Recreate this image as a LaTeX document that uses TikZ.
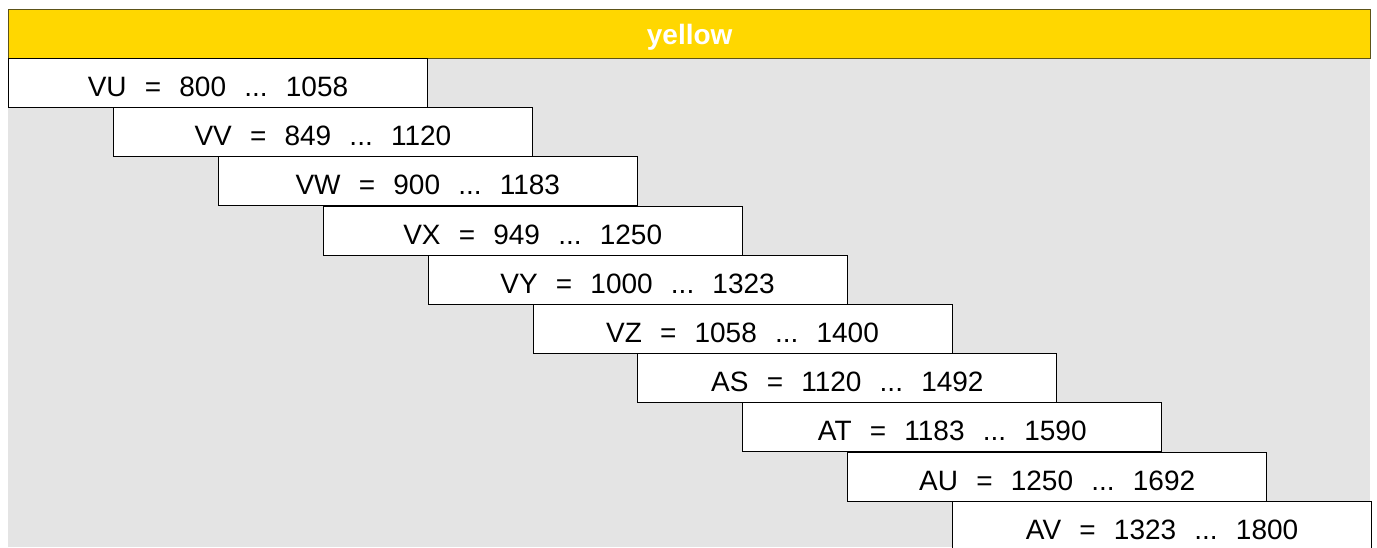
\documentclass[tikz,border=0pt]{standalone}
\usepackage{fontspec}
\setmainfont{Liberation Sans}
\definecolor{jaune}{HTML}{FFD700}
\definecolor{bordjaune}{HTML}{5C5218}
\definecolor{fond}{HTML}{E4E4E4}
\newcommand\esp{\hspace{0.65em}}
\begin{document}
\begin{tikzpicture}[x=0.5pt,y=-0.5pt]
\tikzset{
	plage/.style={draw=black,fill=white,line width=0.5pt,inner sep=0pt,
		minimum width=209.5pt,text height=19pt,text depth=5.5pt,anchor=north west,
		font=\fontsize{14}{16}\selectfont},
	bandeau/.style={draw=bordjaune,fill=jaune,line width=0.7pt,inner sep=0pt,
		minimum width=681pt,text height=17.15pt,text depth=7.35pt,anchor=north west,
		text=white,font=\fontsize{14}{16}\selectfont\bfseries}
}
  \useasboundingbox (0,0) rectangle (1377,547);
  \clip (0,0) rectangle (1377,547);

  % fond gris
  \fill[fond] (8,58) rectangle (1370,547);

  % le bandeau du haut
  \node[bandeau] (titre) at (8,9) {yellow};

  % les plages en escalier
  \foreach \nom/\a/\b [count=\i from 0] in {VU/800/1058, VV/849/1120, VW/900/1183,
      VX/949/1250, VY/1000/1323, VZ/1058/1400, AS/1120/1492, AT/1183/1590,
      AU/1250/1692, AV/1323/1800}
    \node[plage] (\nom) at ({8+104.9*\i},{58+49.2*\i}) {\nom\esp=\esp\a\esp...\esp\b};
\end{tikzpicture}
\end{document}
